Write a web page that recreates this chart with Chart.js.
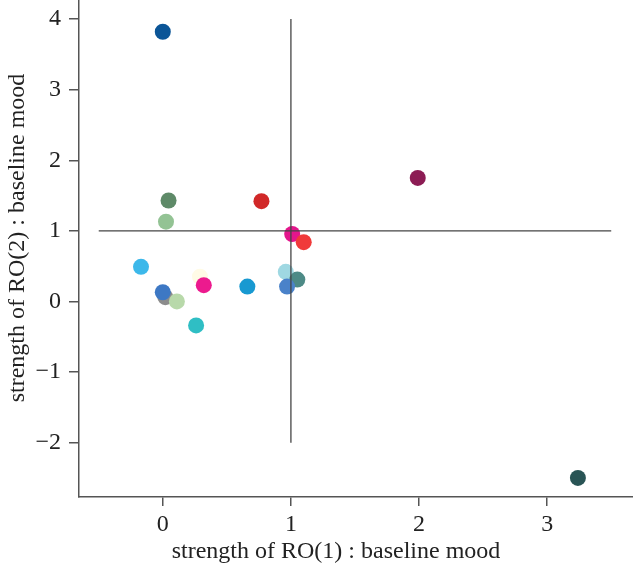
<!DOCTYPE html>
<html><head><meta charset="utf-8">
<script src="https://cdn.jsdelivr.net/npm/chart.js@4"></script>
<style>html,body{margin:0;padding:0;background:#fff}#wrap{width:633px;height:565px;position:relative}</style>
</head><body><div id="wrap"><canvas id="c"></canvas></div>
<script>
const xValues = [0.02, 0.00, 0.11, 0.29, 0.32, -0.17, 0.26, 0.66, 0.96, 1.05, 0.97, 1.01, 1.10, 0.77, 0.045, 0.025, 0.00, 1.99, 3.24];
const yValues = [0.06, 0.13, 0.00, 0.35, 0.23, 0.49, -0.34, 0.21, 0.42, 0.31, 0.21, 0.955, 0.84, 1.42, 1.43, 1.13, 3.82, 1.75, -2.50];
const pointColors = ['#8c8c8c','#3d78c4','#b8d9aa','#fffbe6','#ec1a8e','#3cb8ea','#2fbec4','#1899d1','#9fd8e2','#4d8a86','#4a82c9','#e3168c','#f03a3a','#d12828','#5e8a68','#93c394','#0b5597','#8c1c54','#295455'];
const hLineX = [-0.5, 3.5], hLineY = [1, 1];
const vLineX = [1, 1], vLineY = [-2, 4];
const xTicks = [0, 1, 2, 3];
const yTicks = [-2, -1, 0, 1, 2, 3, 4];
const xTitle = 'strength of RO(1) : baseline mood';
const yTitle = 'strength of RO(2) : baseline mood';

const fontFamily = "'Liberation Serif', 'DejaVu Serif', serif";
const font = {family: fontFamily, size: 24};
const axisColor = '#555';
const textColor = '#222';
const fmt = v => (v < 0 ? '\u2212' + Math.abs(v) : String(v));
const noPad = s => { s.paddingTop = 0; s.paddingBottom = 0; s.paddingLeft = 0; s.paddingRight = 0; };

const axisTitles = {
  id: 'axisTitles',
  afterDraw(chart) {
    const ctx = chart.ctx;
    ctx.save();
    ctx.font = `${font.size}px ${fontFamily}`;
    ctx.fillStyle = textColor;
    ctx.textAlign = 'center';
    ctx.textBaseline = 'alphabetic';
    ctx.fillText(xTitle, 336, 558);
    ctx.translate(24, 238);
    ctx.rotate(-Math.PI / 2);
    ctx.fillText(yTitle, 0, 0);
    ctx.restore();
  }
};

new Chart(document.getElementById('c'), {
  type: 'scatter',
  data: {
    datasets: [
      {data: hLineX.map((x, i) => ({x, y: hLineY[i]})), showLine: true, pointRadius: 0, borderColor: '#444', borderWidth: 1.3},
      {data: vLineX.map((x, i) => ({x, y: vLineY[i]})), showLine: true, pointRadius: 0, borderColor: '#444', borderWidth: 1.3},
      {data: xValues.map((x, i) => ({x, y: yValues[i]})), backgroundColor: pointColors, borderWidth: 0, pointRadius: 8, pointHoverRadius: 8}
    ]
  },
  plugins: [axisTitles],
  options: {
    responsive: true, maintainAspectRatio: false, animation: false,
    layout: {padding: 0, autoPadding: false},
    plugins: {legend: {display: false}, tooltip: {enabled: false}},
    scales: {
      x: {
        type: 'linear', min: -0.654, max: 3.67,
        afterBuildTicks: s => { s.ticks = xTicks.map(v => ({value: v})); },
        afterFit: s => { s.height = 68; noPad(s); },
        grid: {drawOnChartArea: false, drawTicks: true, tickLength: 9, color: axisColor, lineWidth: 1.5},
        border: {display: true, color: axisColor, width: 1.5},
        ticks: {font, color: textColor, padding: 4, callback: fmt, maxRotation: 0},
        title: {display: false}
      },
      y: {
        type: 'linear', min: -2.77, max: 4.27,
        afterBuildTicks: s => { s.ticks = yTicks.map(v => ({value: v})); },
        afterFit: s => { s.width = 79; noPad(s); },
        grid: {drawOnChartArea: false, drawTicks: true, tickLength: 10, color: axisColor, lineWidth: 1.5},
        border: {display: true, color: axisColor, width: 1.5},
        ticks: {font, color: textColor, padding: 8, callback: fmt},
        title: {display: false}
      }
    }
  }
});
</script>
</body></html>
